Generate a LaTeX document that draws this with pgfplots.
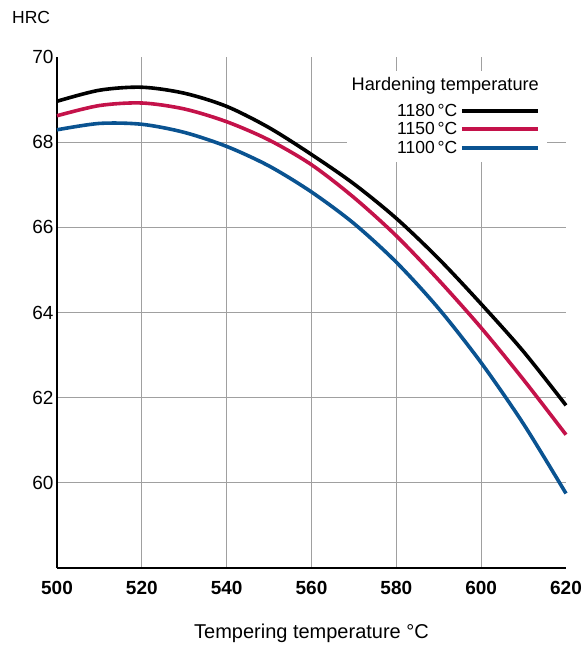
\documentclass[border=0pt]{standalone}
\usepackage{pgfplots}
\pgfplotsset{compat=1.18}
\usepackage{fontspec}
\setmainfont{Liberation Sans}
\definecolor{cred}{HTML}{C4124A}
\definecolor{cblue}{HTML}{0A5391}
\definecolor{cgrid}{HTML}{A0A0A0}

\begin{document}
\begin{tikzpicture}
\begin{axis}[name=ax, scale only axis, width=509pt, height=511pt,
  xmin=500, xmax=620, ymin=58, ymax=70,
  axis lines=left, axis line style={-, line width=1.6pt},
  xtick={500,520,...,600}, extra x ticks={620}, extra x tick style={grid=none},
  ytick={60,62,...,68}, extra y ticks={70}, extra y tick style={grid=none},
  grid=major, grid style={cgrid, line width=0.9pt},
  major tick length=0pt,
  /pgf/number format/assume math mode=true,
  /pgf/number format/1000 sep={},
  xticklabel style={font=\fontsize{19}{22}\selectfont\bfseries, anchor=base, yshift=-26pt},
  yticklabel style={font=\fontsize{19}{22}\selectfont},
  xlabel={Tempering temperature °C},
  xlabel style={font=\fontsize{20}{24}\selectfont, at={(rel axis cs:0.5,0)}, anchor=base, yshift=-70pt},
  legend style={at={(rel axis cs:0.949,0.9136)}, anchor=north east, draw=none, fill=white,
    inner sep=0pt, font=\fontsize{17.5}{20}\selectfont, nodes={inner sep=2.5pt}},
  legend plot pos=right, legend cell align=right,
  legend image code/.code={\draw[#1, line width=4pt] (0pt,0pt) -- (76pt,0pt);},
  clip=false
]
\fill[white] (axis cs:568.4,69.66) rectangle (axis cs:615.5,67.53);
\addplot[black, line width=3.6pt, smooth] coordinates {
 (500,68.96) (510,69.22) (520,69.29) (530,69.15) (540,68.84) (550,68.34) (560,67.71)
 (570,67.02) (580,66.21) (590,65.26) (600,64.20) (610,63.08) (620,61.82)};
\addlegendentry{1180\,°C}
\addplot[cred, line width=3.6pt, smooth] coordinates {
 (500,68.62) (510,68.86) (520,68.92) (530,68.78) (540,68.48) (550,68.05) (560,67.47)
 (570,66.70) (580,65.80) (590,64.76) (600,63.64) (610,62.42) (620,61.13)};
\addlegendentry{1150\,°C}
\addplot[cblue, line width=3.6pt, smooth] coordinates {
 (500,68.29) (510,68.44) (520,68.42) (530,68.23) (540,67.90) (550,67.44) (560,66.83)
 (570,66.09) (580,65.18) (590,64.09) (600,62.82) (610,61.38) (620,59.75)};
\addlegendentry{1100\,°C}
\node[anchor=east, fill=white, inner sep=2pt, font=\fontsize{18.2}{21}\selectfont]
  at (rel axis cs:0.951,0.944) {Hardening temperature};
\end{axis}
\node[anchor=base west, inner sep=0pt, font=\fontsize{17.5}{20}\selectfont]
  at ([xshift=-45pt, yshift=33pt]ax.north west) {HRC};
\pgfresetboundingbox
\path[use as bounding box] ([xshift=-57pt,yshift=-78pt]ax.south west) rectangle ([xshift=21pt,yshift=57pt]ax.north east);
\end{tikzpicture}
\end{document}
